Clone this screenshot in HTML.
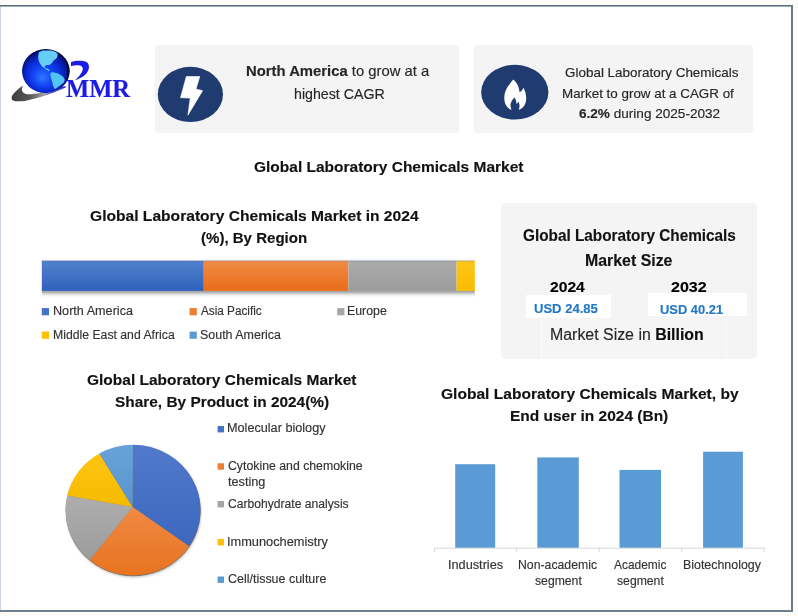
<!DOCTYPE html>
<html><head><meta charset="utf-8"><style>
html,body{margin:0;padding:0;}
body{width:798px;height:616px;position:relative;overflow:hidden;background:#fefcf8;font-family:'Liberation Sans',sans-serif;}
.t{position:absolute;transform-origin:0 0;-webkit-text-stroke:0.15px currentColor;}
.t b{font-weight:bold;}
.box{position:absolute;background:#f4f4f4;box-shadow:0 0 1px #f6f6f6;}
</style></head><body>
<div style="position:absolute;left:0;top:5px;width:793px;height:607px;background:#fff;"></div>
<div style="position:absolute;left:0;top:5px;width:1px;height:605px;background:#ccd5df;"></div>
<div style="position:absolute;left:0;top:5px;width:792px;height:1px;background:#5c6a79;"></div>
<div style="position:absolute;left:0;top:6px;width:792px;height:1px;background:#9cb0c2;"></div>
<div style="position:absolute;left:791px;top:5px;width:2px;height:607px;background:#6b7b8a;"></div>
<div style="position:absolute;left:0;top:610px;width:793px;height:2px;background:#6d7e8d;"></div>
<div class="box" style="left:155px;top:45px;width:303.5px;height:88.3px;border-radius:4px;"></div>
<div class="box" style="left:474.2px;top:45.3px;width:278.4px;height:87.4px;border-radius:4px;"></div>
<div class="box" style="left:501.3px;top:202.7px;width:256.2px;height:155.9px;border-radius:5px;"></div>
<div style="position:absolute;left:526px;top:294.9px;width:85.4px;height:22.8px;background:#fff;"></div>
<div style="position:absolute;left:648.3px;top:293.3px;width:98.5px;height:22.6px;background:#fff;"></div>
<div style="position:absolute;left:540.5px;top:317.6px;width:186.2px;height:41px;background:#f5f5f5;border-left:1px solid #fbfbfb;border-right:1px solid #fbfbfb;box-sizing:border-box;"></div>
<svg style="position:absolute;left:0;top:0" width="798" height="616" viewBox="0 0 798 616">

<defs>
 <radialGradient id="globe" cx="48%" cy="56%" r="55%" fx="42%" fy="66%">
  <stop offset="0" stop-color="#2f78ff"/><stop offset="0.35" stop-color="#1448f5"/><stop offset="0.65" stop-color="#0a2cd8"/><stop offset="0.85" stop-color="#061a9a"/><stop offset="1" stop-color="#01064a"/></radialGradient>
 <linearGradient id="sw" x1="0" x2="1" y1="0" y2="0">
  <stop offset="0" stop-color="#3e3e3e"/><stop offset="0.35" stop-color="#5a5a5a"/><stop offset="0.6" stop-color="#a0a0a8"/><stop offset="0.75" stop-color="#3a3ad0"/><stop offset="1" stop-color="#1010c0"/>
 </linearGradient>
 <linearGradient id="gB" x1="0" y1="0" x2="0" y2="1"><stop offset="0" stop-color="#5179cb"/><stop offset="1" stop-color="#3c67bd"/></linearGradient>
 <linearGradient id="gO" x1="0" y1="0" x2="0" y2="1"><stop offset="0" stop-color="#f08a45"/><stop offset="1" stop-color="#e8731f"/></linearGradient>
 <linearGradient id="gG" x1="0" y1="0" x2="0" y2="1"><stop offset="0" stop-color="#aeaeae"/><stop offset="1" stop-color="#9c9c9c"/></linearGradient>
 <linearGradient id="gY" x1="0" y1="0" x2="0" y2="1"><stop offset="0" stop-color="#ffc413"/><stop offset="1" stop-color="#f5bb00"/></linearGradient>
 <linearGradient id="gL" x1="0" y1="0" x2="0" y2="1"><stop offset="0" stop-color="#68a2d8"/><stop offset="1" stop-color="#5795d0"/></linearGradient>
 <clipPath id="gclip"><ellipse cx="45.8" cy="71.1" rx="23.8" ry="22"/></clipPath>
 <filter id="blur1" x="-10%" y="-10%" width="120%" height="130%"><feGaussianBlur stdDeviation="1.2"/></filter>
</defs><defs>
<linearGradient id="hB" x1="0" y1="0" x2="0" y2="1"><stop offset="0" stop-color="#5281cc"/><stop offset="1" stop-color="#2e61be"/></linearGradient>
<linearGradient id="hT" x1="0" y1="0" x2="0" y2="1"><stop offset="0" stop-color="#ffffff" stop-opacity="0"/><stop offset="1" stop-color="#dfe3f4" stop-opacity="0.9"/></linearGradient>
<linearGradient id="hS" x1="0" y1="0" x2="0" y2="1"><stop offset="0" stop-color="#9a9a9a" stop-opacity="1"/><stop offset="0.25" stop-color="#aaaaaa" stop-opacity="0.9"/><stop offset="1" stop-color="#ffffff" stop-opacity="0"/></linearGradient>
<linearGradient id="hO" x1="0" y1="0" x2="0" y2="1"><stop offset="0" stop-color="#f08c46"/><stop offset="1" stop-color="#ea6c18"/></linearGradient>
<linearGradient id="hG" x1="0" y1="0" x2="0" y2="1"><stop offset="0" stop-color="#aaaaaa"/><stop offset="1" stop-color="#9d9d9d"/></linearGradient>
<linearGradient id="hY" x1="0" y1="0" x2="0" y2="1"><stop offset="0" stop-color="#ffc61a"/><stop offset="1" stop-color="#f7bc00"/></linearGradient>
</defs>

<path d="M22.8,85.6 C18,89.5 11,94.5 11.6,98.8 C12.2,102 19,101.8 27,100.4 C40,98 55,92.5 66.5,87 L64.5,86.2 C52,90.5 40,93.6 31,94.3 C24.5,94.8 19.8,92.5 22.8,85.6 Z" fill="url(#sw)"/>
<ellipse cx="45.8" cy="71.1" rx="23.8" ry="22" fill="url(#globe)"/>
<path d="M39,52.1 C41,51 42.5,50.5 44.3,50.5 L50.8,50.5 C53,51 54.5,51.3 55.7,52.1 C57,53 57.9,54 57.7,54.9 C57.5,56.5 57,57.5 56.5,58.2 C55.5,59.2 54.8,59.6 54,60.2 C53.3,61 52.9,61.6 52.4,62.2 C51.5,63.3 50.8,64.2 50,64.7 C49,65 47.8,64.9 46.8,65.1 C45.8,65.4 45.4,65.8 45.1,66.3 C44.7,67 44.5,67.5 44.6,67.9 C45.6,68.2 46.7,68.3 47.6,68.7 C48.5,69.2 49.4,69.8 50,70.3 C49.4,70.7 48.9,70.8 48.4,70.7 C46.3,69.8 44.3,68.6 42.7,67.1 C41.6,66 40.9,64.9 40.3,63.8 C39.5,62.8 39,61.7 38.7,60.6 C38.3,59.2 38.1,57.8 38.2,56.5 C38.3,55 38.6,53.5 39,52.1 Z" fill="#66cdf6"/>
<path d="M50.8,72.8 C51.8,72.5 52.9,72.3 54,72.4 C55.4,72.7 56.8,73.1 58.1,73.6 C59.5,74.3 61,75.1 62.2,76 C63.3,77 64.1,78.1 64.6,79.3 C64.8,80.4 64.4,81.5 63.8,82.5 C62.8,83.4 61.7,84.1 60.6,84.9 C59.5,85.8 58.4,86.6 57.3,87.4 C56.5,88 55.7,88.6 54.9,89 C54.2,88.2 53.7,87.4 53.3,86.6 C52.9,85.2 52.6,83.8 52.4,82.5 C52,81.1 51.6,79.7 51.2,78.4 C50.9,77.3 50.6,76.2 50.4,75.2 C50.4,74.4 50.5,73.6 50.8,72.8 Z" fill="#52c4f3"/>
<path d="M62,51 C68,56 71,64 70.5,72 C70,80 67,86 62,90.5 C65.5,84 67.3,77 67.4,71 C67.5,64 65.5,57 62,51 Z" fill="#000522" opacity="0.8" clip-path="url(#gclip)"/>
<path d="M30,92.5 C42,95 53,93 63,87.5 L66,85.8 C56,92.8 43,96.2 30,92.5 Z" fill="#9a9ab8" opacity="0.9"/>
<path d="M71,62 C76,60.5 83,60.2 86.5,62 C89.5,64 89.5,68 88,71 C86,75 81,78.5 75,80.2 C79,76.5 82.5,72.5 82.8,69 C83,66.5 81,65.2 78,65.2 C75.5,65.2 73,65.6 71,66.2 Z" fill="#1c1ce6"/>

<ellipse cx="190.4" cy="94.4" rx="32.6" ry="27.6" fill="#1f3b70"/>
<path d="M186.3,76.5 L199.8,76.5 L196.0,89.0 L202.6,90.7 L187.9,115.2 L190.2,98.1 L180.5,97.7 Z" fill="#fff" stroke="#fff" stroke-width="0.6" stroke-linejoin="round"/>
<ellipse cx="514.8" cy="92.2" rx="33.6" ry="27.4" fill="#1f3b70"/>
<path d="M513.2,79.5 C508,86 504,91 504.3,99 C504.6,106 509,110.5 515,110.5 C521,110.5 526,106 526.2,99 C526.3,94 525,90 523.3,87.7 C522.5,90 521.5,91.5 519.5,92 C519,86 516.5,82 513.2,79.5 Z" fill="#fff"/>
<path d="M514.3,97.6 C512,100.3 510.4,102.8 510.5,105.5 C510.6,108 511.5,110 512.3,111.2 L518.2,111.2 C519,110 519.6,107.5 519.5,105.3 C519.4,103.8 519,102.5 518.3,101.5 C517.9,102.8 517.2,103.6 516.4,103.9 C516.5,101.4 515.7,99.3 514.3,97.6 Z" fill="#1f3b70"/>

<rect x="41.8" y="290.5" width="433" height="7.5" fill="url(#hS)"/>
<rect x="41.8" y="260.6" width="162" height="30.3" fill="url(#hB)"/>
<rect x="203.8" y="260.6" width="144.6" height="30.3" fill="url(#hO)"/>
<rect x="348.4" y="260.6" width="108.2" height="30.3" fill="url(#hG)"/>
<rect x="456.6" y="260.6" width="18.2" height="30.3" fill="url(#hY)"/>
<rect x="41.8" y="257.8" width="433" height="2.8" fill="url(#hT)"/>
<rect x="41.8" y="260.6" width="433" height="0.8" fill="#44557a" opacity="0.35"/>

<rect x="41.8" y="308.1" width="7.2" height="7.2" fill="#4472c4"/>
<rect x="189.6" y="308.1" width="7.2" height="7.2" fill="#ed7d31"/>
<rect x="337.2" y="308.1" width="7.2" height="7.2" fill="#a5a5a5"/>
<rect x="41.8" y="331.6" width="7.2" height="7.2" fill="#ffc000"/>
<rect x="189.6" y="331.6" width="7.2" height="7.2" fill="#5b9bd5"/>
<rect x="217.6" y="426" width="6.4" height="6.4" fill="#4472c4"/>
<rect x="217.6" y="463.3" width="6.4" height="6.4" fill="#ed7d31"/>
<rect x="217.6" y="501" width="6.4" height="6.4" fill="#a5a5a5"/>
<rect x="217.6" y="539" width="6.4" height="6.4" fill="#ffc000"/>
<rect x="217.6" y="576.5" width="6.4" height="6.4" fill="#5b9bd5"/>
<ellipse cx="133.8" cy="512" rx="67.5" ry="65.5" fill="#808080" opacity="0.4" filter="url(#blur1)"/><ellipse cx="133.2" cy="511" rx="67.5" ry="65.2" fill="#5a3a20" opacity="0.6"/>
<path d="M132.6,507.0 L133.00,444.80 A67.5,65.2 0 0 1 189.09,546.27 Z" fill="url(#gB)"/>
<path d="M132.6,507.0 L189.09,546.27 A67.5,65.2 0 0 1 89.70,560.02 Z" fill="url(#gO)"/>
<path d="M132.6,507.0 L89.70,560.02 A67.5,65.2 0 0 1 67.18,495.56 Z" fill="url(#gG)"/>
<path d="M132.6,507.0 L67.18,495.56 A67.5,65.2 0 0 1 99.35,453.48 Z" fill="url(#gY)"/>
<path d="M132.6,507.0 L99.35,453.48 A67.5,65.2 0 0 1 133.00,444.80 Z" fill="url(#gL)"/>
<rect x="434" y="547.7" width="330.5" height="1" fill="#d9d9d9"/><rect x="434.0" y="547.7" width="1" height="4.5" fill="#d9d9d9"/><rect x="516.1" y="547.7" width="1" height="4.5" fill="#d9d9d9"/><rect x="598.7" y="547.7" width="1" height="4.5" fill="#d9d9d9"/><rect x="681.1" y="547.7" width="1" height="4.5" fill="#d9d9d9"/><rect x="763.5" y="547.7" width="1" height="4.5" fill="#d9d9d9"/>
<rect x="455.2" y="464.2" width="40.0" height="83.50000000000006" fill="#5b9bd5"/>
<rect x="537.3" y="457.4" width="41.5" height="90.30000000000007" fill="#5b9bd5"/>
<rect x="619.5" y="469.9" width="41.5" height="77.80000000000007" fill="#5b9bd5"/>
<rect x="703.1" y="451.7" width="39.799999999999955" height="96.00000000000006" fill="#5b9bd5"/>
</svg>
<div class="t" style="left:254.00px;top:146.50px;font-family:'Liberation Sans', sans-serif;font-size:15.5px;font-weight:bold;color:#121212;line-height:40px;white-space:nowrap;transform:scaleX(0.9993)">Global Laboratory Chemicals Market</div>
<div class="t" style="left:246.48px;top:51.00px;font-family:'Liberation Sans', sans-serif;font-size:14.6px;font-weight:normal;color:#262626;line-height:40px;white-space:nowrap;transform:scaleX(1.0167)"><b>North America</b> to grow at a</div>
<div class="t" style="left:293.63px;top:74.40px;font-family:'Liberation Sans', sans-serif;font-size:14.6px;font-weight:normal;color:#262626;line-height:40px;white-space:nowrap;transform:scaleX(0.9728)">highest CAGR</div>
<div class="t" style="left:564.50px;top:53.00px;font-family:'Liberation Sans', sans-serif;font-size:13.2px;font-weight:normal;color:#262626;line-height:40px;white-space:nowrap;transform:scaleX(1.0200)">Global Laboratory Chemicals</div>
<div class="t" style="left:562.29px;top:73.50px;font-family:'Liberation Sans', sans-serif;font-size:13.2px;font-weight:normal;color:#262626;line-height:40px;white-space:nowrap;transform:scaleX(1.0148)">Market to grow at a CAGR of</div>
<div class="t" style="left:578.80px;top:94.00px;font-family:'Liberation Sans', sans-serif;font-size:13.2px;font-weight:normal;color:#262626;line-height:40px;white-space:nowrap;transform:scaleX(1.0292)"><b>6.2%</b> during 2025-2032</div>
<div class="t" style="left:89.50px;top:195.80px;font-family:'Liberation Sans', sans-serif;font-size:15.5px;font-weight:bold;color:#121212;line-height:40px;white-space:nowrap;transform:scaleX(1.0064)">Global Laboratory Chemicals Market in 2024</div>
<div class="t" style="left:200.83px;top:218.30px;font-family:'Liberation Sans', sans-serif;font-size:15.5px;font-weight:bold;color:#121212;line-height:40px;white-space:nowrap;transform:scaleX(0.9704)">(%), By Region</div>
<div class="t" style="left:52.65px;top:291.30px;font-family:'Liberation Sans', sans-serif;font-size:12.0px;font-weight:normal;color:#333333;line-height:40px;white-space:nowrap;transform:scaleX(1.0520)">North America</div>
<div class="t" style="left:200.70px;top:291.30px;font-family:'Liberation Sans', sans-serif;font-size:12.0px;font-weight:normal;color:#333333;line-height:40px;white-space:nowrap;transform:scaleX(0.9774)">Asia Pacific</div>
<div class="t" style="left:347.17px;top:291.30px;font-family:'Liberation Sans', sans-serif;font-size:12.0px;font-weight:normal;color:#333333;line-height:40px;white-space:nowrap;transform:scaleX(1.0270)">Europe</div>
<div class="t" style="left:52.68px;top:314.60px;font-family:'Liberation Sans', sans-serif;font-size:12.0px;font-weight:normal;color:#333333;line-height:40px;white-space:nowrap;transform:scaleX(1.0193)">Middle East and Africa</div>
<div class="t" style="left:199.66px;top:314.60px;font-family:'Liberation Sans', sans-serif;font-size:12.0px;font-weight:normal;color:#333333;line-height:40px;white-space:nowrap;transform:scaleX(1.0377)">South America</div>
<div class="t" style="left:523.10px;top:215.70px;font-family:'Liberation Sans', sans-serif;font-size:15.8px;font-weight:bold;color:#121212;line-height:40px;white-space:nowrap;transform:scaleX(0.9699)">Global Laboratory Chemicals</div>
<div class="t" style="left:584.59px;top:240.50px;font-family:'Liberation Sans', sans-serif;font-size:15.8px;font-weight:bold;color:#121212;line-height:40px;white-space:nowrap;transform:scaleX(1.0058)">Market Size</div>
<div class="t" style="left:550.00px;top:266.70px;font-family:'Liberation Sans', sans-serif;font-size:14.5px;font-weight:bold;color:#000000;line-height:40px;white-space:nowrap;transform:scaleX(1.0788)">2024</div>
<div class="t" style="left:670.80px;top:266.50px;font-family:'Liberation Sans', sans-serif;font-size:14.5px;font-weight:bold;color:#000000;line-height:40px;white-space:nowrap;transform:scaleX(1.1063)">2032</div>
<div class="t" style="left:533.68px;top:289.20px;font-family:'Liberation Sans', sans-serif;font-size:12.8px;font-weight:bold;color:#2179c6;line-height:40px;white-space:nowrap;transform:scaleX(1.0194)">USD 24.85</div>
<div class="t" style="left:659.99px;top:290.40px;font-family:'Liberation Sans', sans-serif;font-size:12.8px;font-weight:bold;color:#2179c6;line-height:40px;white-space:nowrap;transform:scaleX(1.0081)">USD 40.21</div>
<div class="t" style="left:550.31px;top:315.10px;font-family:'Liberation Sans', sans-serif;font-size:16.0px;font-weight:normal;color:#262626;line-height:40px;white-space:nowrap;transform:scaleX(0.9941)">Market Size in <b style="color:#0d0d0d">Billion</b></div>
<div class="t" style="left:86.90px;top:360.00px;font-family:'Liberation Sans', sans-serif;font-size:15.5px;font-weight:bold;color:#121212;line-height:40px;white-space:nowrap;transform:scaleX(0.9993)">Global Laboratory Chemicals Market</div>
<div class="t" style="left:114.80px;top:381.90px;font-family:'Liberation Sans', sans-serif;font-size:15.5px;font-weight:bold;color:#121212;line-height:40px;white-space:nowrap;transform:scaleX(0.9944)">Share, By Product in 2024(%)</div>
<div class="t" style="left:226.97px;top:407.60px;font-family:'Liberation Sans', sans-serif;font-size:12.3px;font-weight:normal;color:#333333;line-height:40px;white-space:nowrap;transform:scaleX(1.0295)">Molecular biology</div>
<div class="t" style="left:228.00px;top:445.70px;font-family:'Liberation Sans', sans-serif;font-size:12.3px;font-weight:normal;color:#333333;line-height:40px;white-space:nowrap;transform:scaleX(0.9993)">Cytokine and chemokine</div>
<div class="t" style="left:228.00px;top:462.10px;font-family:'Liberation Sans', sans-serif;font-size:12.3px;font-weight:normal;color:#333333;line-height:40px;white-space:nowrap;transform:scaleX(1.0306)">testing</div>
<div class="t" style="left:228.00px;top:484.40px;font-family:'Liberation Sans', sans-serif;font-size:12.3px;font-weight:normal;color:#333333;line-height:40px;white-space:nowrap;transform:scaleX(0.9861)">Carbohydrate analysis</div>
<div class="t" style="left:226.96px;top:521.70px;font-family:'Liberation Sans', sans-serif;font-size:12.3px;font-weight:normal;color:#333333;line-height:40px;white-space:nowrap;transform:scaleX(1.0406)">Immunochemistry</div>
<div class="t" style="left:228.00px;top:559.20px;font-family:'Liberation Sans', sans-serif;font-size:12.3px;font-weight:normal;color:#333333;line-height:40px;white-space:nowrap;transform:scaleX(1.0134)">Cell/tissue culture</div>
<div class="t" style="left:441.00px;top:373.90px;font-family:'Liberation Sans', sans-serif;font-size:15.5px;font-weight:bold;color:#121212;line-height:40px;white-space:nowrap;transform:scaleX(1.0044)">Global Laboratory Chemicals Market, by</div>
<div class="t" style="left:510.40px;top:395.70px;font-family:'Liberation Sans', sans-serif;font-size:15.5px;font-weight:bold;color:#121212;line-height:40px;white-space:nowrap;transform:scaleX(0.9987)">End user in 2024 (Bn)</div>
<div class="t" style="left:447.99px;top:545.00px;font-family:'Liberation Sans', sans-serif;font-size:12.6px;font-weight:normal;color:#333333;line-height:40px;white-space:nowrap;transform:scaleX(1.0094)">Industries</div>
<div class="t" style="left:517.83px;top:545.00px;font-family:'Liberation Sans', sans-serif;font-size:12.6px;font-weight:normal;color:#333333;line-height:40px;white-space:nowrap;transform:scaleX(0.9738)">Non-academic</div>
<div class="t" style="left:534.80px;top:561.10px;font-family:'Liberation Sans', sans-serif;font-size:12.6px;font-weight:normal;color:#333333;line-height:40px;white-space:nowrap;transform:scaleX(0.9688)">segment</div>
<div class="t" style="left:614.00px;top:545.00px;font-family:'Liberation Sans', sans-serif;font-size:12.6px;font-weight:normal;color:#333333;line-height:40px;white-space:nowrap;transform:scaleX(0.9473)">Academic</div>
<div class="t" style="left:617.00px;top:561.10px;font-family:'Liberation Sans', sans-serif;font-size:12.6px;font-weight:normal;color:#333333;line-height:40px;white-space:nowrap;transform:scaleX(0.9688)">segment</div>
<div class="t" style="left:683.22px;top:545.00px;font-family:'Liberation Sans', sans-serif;font-size:12.6px;font-weight:normal;color:#333333;line-height:40px;white-space:nowrap;transform:scaleX(0.9846)">Biotechnology</div>
<div class="t" style="left:66.30px;top:68.80px;font-family:'Liberation Serif', serif;font-size:24.5px;font-weight:bold;color:#1c1ce6;line-height:40px;white-space:nowrap;transform:scaleX(1.0016)">MMR</div>
</body></html>
